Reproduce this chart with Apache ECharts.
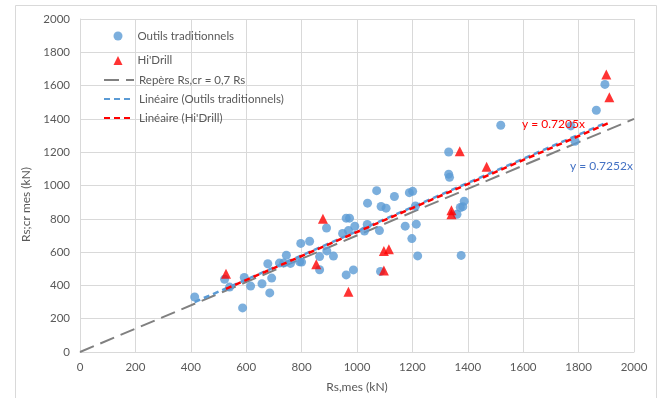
<!DOCTYPE html>
<html>
<head>
<meta charset="utf-8">
<script src="https://cdn.jsdelivr.net/npm/echarts@6/dist/echarts.min.js"></script>
<style>
html,body{margin:0;padding:0;background:#fff;}
#chart{width:657px;height:398px;}
</style>
</head>
<body>
<div id="chart"></div>
<script>
// Data
const seriesNames = ["Outils traditionnels", "Hi'Drill", "Repère Rs,cr = 0,7 Rs", "Linéaire (Outils traditionnels)", "Linéaire (Hi'Drill)"];
const outilsX = [414,522,540,587,593,616,657,678,685,692,720,735,745,760,793,800,797,829,865,865,890,891,915,948,961,973,961,969,987,992,1027,1037,1038,1071,1081,1085,1087,1105,1135,1174,1189,1201,1198,1211,1214,1219,1331,1331,1334,1361,1373,1382,1387,1376,1519,1772,1787,1864,1895];
const outilsY = [330,437,390,265,448,396,410,530,355,444,534,534,581,532,542,540,652,665,573,494,745,607,576,712,804,804,463,729,493,755,727,766,894,969,729,484,874,864,934,756,957,965,681,877,768,577,1201,1068,1049,827,868,873,906,580,1362,1358,1266,1452,1607];
const hidrillX = [527,853,877,969,1097,1115,1097,1341,1341,1371,1468,1900,1911];
const hidrillY = [470,527,800,362,607,617,490,852,827,1205,1113,1667,1530];
const repereX = [0,2000];
const repereY = [0,1400];
const trendOutilsX = [414,1895];
const trendOutilsY = [300.2,1374.3];
const trendHidrillX = [527,1911];
const trendHidrillY = [379.7,1376.9];
const xTicks = [0,2000,200];
const yTicks = [0,2000,200];
const eqHidrill = "y = 0.7205x";
const eqOutils = "y = 0.7252x";

const zip = (a,b) => a.map((v,i)=>[v,b[i]]);
const FONT = "Lato";
const TXT = '#595959';
const chart = echarts.init(document.getElementById('chart'));
chart.setOption({
  animation:false,
  backgroundColor:'#ffffff',
  textStyle:{fontFamily:FONT},
  grid:{left:80, top:19, width:554, height:342, containLabel:false},
  xAxis:{
    type:'value', min:xTicks[0], max:xTicks[1], interval:xTicks[2],
    name:'Rs,mes (kN)', nameLocation:'middle', nameGap:29,
    nameTextStyle:{color:TXT, fontSize:12, fontFamily:FONT},
    axisLine:{show:true, lineStyle:{color:'#d9d9d9'}},
    axisTick:{show:false},
    axisLabel:{color:TXT, fontSize:11.5, margin:9, fontFamily:FONT, formatter:v=>String(v)},
    splitLine:{show:true, lineStyle:{color:'#d9d9d9', width:1}}
  },
  yAxis:{
    type:'value', min:yTicks[0], max:yTicks[1], interval:yTicks[2],
    name:'Rs;cr mes (kN)', nameLocation:'middle', nameGap:37,
    nameTextStyle:{color:TXT, fontSize:12, fontFamily:FONT, padding:[0,38,0,0]},
    axisLine:{show:true, lineStyle:{color:'#d9d9d9'}},
    axisTick:{show:false},
    axisLabel:{color:TXT, fontSize:11.5, margin:10, fontFamily:FONT, formatter:v=>String(v)},
    splitLine:{show:true, lineStyle:{color:'#d9d9d9', width:1}}
  },
  legend:[
    {
      orient:'vertical', left:108.5, top:25, itemWidth:9, itemHeight:9, itemGap:12.5,
      textStyle:{color:TXT, fontSize:11.5, fontFamily:FONT, padding:[0,0,0,10]},
      data:[seriesNames[0], seriesNames[1]]
    },
    {
      orient:'vertical', left:98, top:69, itemWidth:30, itemHeight:10, itemGap:7,
      textStyle:{color:TXT, fontSize:11.5, fontFamily:FONT},
      data:[seriesNames[2], seriesNames[3], seriesNames[4]].map(n=>({name:n, itemStyle:{color:'rgba(0,0,0,0)', borderWidth:0}}))
    }
  ],
  series:[
    {name:seriesNames[2], type:'line', data:zip(repereX,repereY), symbol:'none', z:2,
     lineStyle:{color:'#808080', width:2, type:[15,7]}},
    {name:seriesNames[0], type:'scatter', data:zip(outilsX,outilsY), symbol:'circle', symbolSize:9, z:3,
     itemStyle:{color:'#5b9bd5'}},
    {name:seriesNames[1], type:'scatter', data:zip(hidrillX,hidrillY), symbol:'triangle', symbolSize:10, z:4,
     itemStyle:{color:'#ff0000'}},
    {name:seriesNames[3], type:'line', data:zip(trendOutilsX,trendOutilsY), symbol:'none', z:5,
     lineStyle:{color:'#5b9bd5', width:2.5, type:[6,4]}},
    {name:seriesNames[4], type:'line', data:zip(trendHidrillX,trendHidrillY), symbol:'none', z:6,
     lineStyle:{color:'#ff0000', width:2.5, type:[6,4]}}
  ],
  graphic:[
    {type:'rect', left:13, top:3, shape:{width:641, height:400}, style:{fill:'none', stroke:'#d9d9d9', lineWidth:1}, silent:true, z:-1},
    {type:'text', left:522, top:118, style:{text:eqHidrill, fill:'#ff0000', font:'12px '+FONT}, z:20},
    {type:'text', left:570, top:160, style:{text:eqOutils, fill:'#4472c4', font:'12px '+FONT}, z:20}
  ]
});
</script>
</body>
</html>
